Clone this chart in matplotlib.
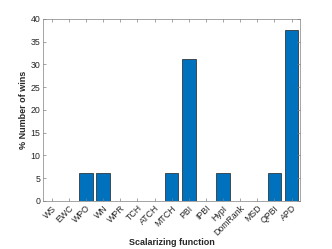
import matplotlib
matplotlib.use("Agg")
import matplotlib.pyplot as plt
import numpy as np

categories = ["WS", "EWC", "WPO", "WN", "WPR", "TCH", "ATCH", "MTCH", "PBI",
              "IPBI", "HypI", "DomRank", "MSD", "QPBI", "APD"]
wins = [0, 0, 6.25, 6.25, 0, 0, 0, 6.25, 31.25, 0, 6.25, 0, 0, 6.25, 37.5]
yticks = [0, 5, 10, 15, 20, 25, 30, 35, 40]

plt.rcParams['font.family'] = ['Liberation Sans', 'DejaVu Sans']

fig = plt.figure(figsize=(3.32, 2.49), dpi=100)
ax = fig.add_axes([0.130, 0.193, 0.774, 0.731])
x = np.arange(1, len(categories) + 1)
ax.bar(x, wins, width=0.8, color="#0072BD", edgecolor="#1f1f1f", linewidth=0.5)
ax.set_xlim(0.5, len(categories) + 0.5)
ax.set_ylim(0, 40)
ax.set_yticks(yticks)
ax.set_xticks(x)
ax.set_xticklabels(categories, rotation=45, ha="right", rotation_mode="anchor")
grey = "#262626"
for s in ax.spines.values():
    s.set_color("#808080")
    s.set_linewidth(0.5)
ax.tick_params(direction="in", length=2.5, width=0.5, color="#808080",
               labelsize=6.3, labelcolor=grey, top=True, right=True, pad=2)
ax.set_xlabel("Scalarizing function", fontsize=6.5, fontweight="bold", color=grey)
ax.set_ylabel("% Number of wins", fontsize=6.5, fontweight="bold", color=grey)
ax.xaxis.set_label_coords(0.5, -0.23)
ax.yaxis.set_label_coords(-0.078, 0.5)
ax.xaxis.label.set_va("center")
ax.yaxis.label.set_va("center")
fig.savefig("out.png", dpi=100)
